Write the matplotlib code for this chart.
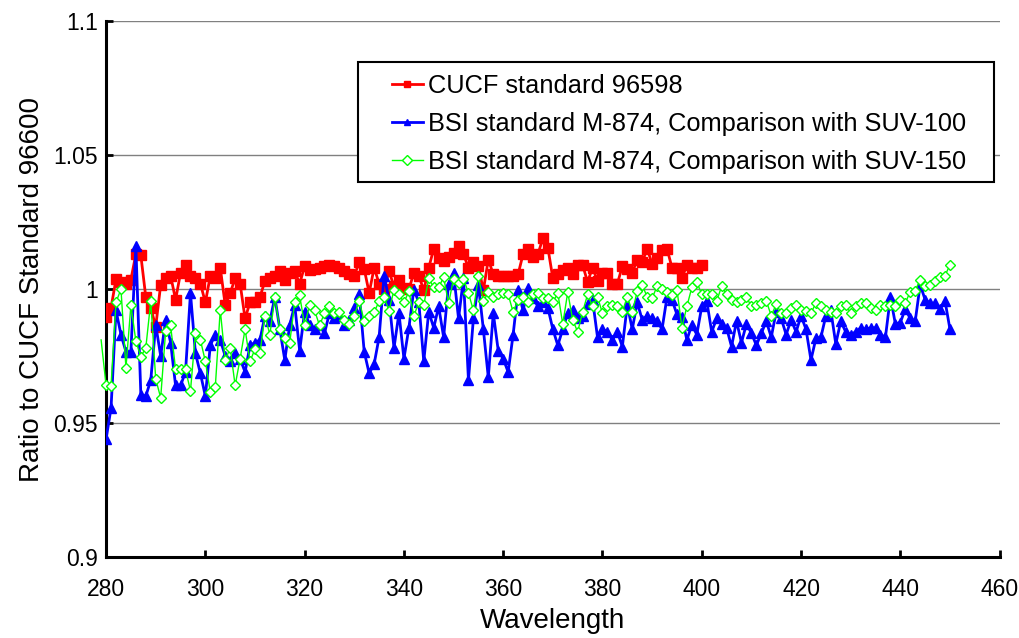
import numpy as np
import matplotlib
matplotlib.use("Agg")
import matplotlib.pyplot as plt
from matplotlib.patches import Rectangle

plt.rcParams["font.family"] = ["Liberation Sans", "DejaVu Sans"]

# CUCF standard 96598, 280-400 nm
red_wl = np.arange(280, 401)
red_val = [
    0.9895, 0.993, 1.0037, 1.0026, 1.002, 1.0035, 1.013, 1.0126, 0.997, 0.993,
    0.986, 1.0016, 1.004, 1.005, 0.996, 1.006, 1.009, 1.005, 1.004, 1.002,
    0.995, 1.005, 1.004, 1.008, 0.994, 0.9985, 1.004, 1.002, 0.989, 0.995,
    0.995, 0.997, 1.003, 1.004, 1.005, 1.0066, 1.0035, 1.006, 1.0066, 1.002,
    1.0085, 1.007, 1.0075, 1.008, 1.0085, 1.009, 1.0085, 1.008, 1.0066, 1.0056,
    1.005, 1.010, 1.0075, 0.9985, 1.008, 1.002, 1.000, 1.0066, 1.001, 1.0035,
    1.0004, 0.9999, 1.006, 1.005, 0.9995, 1.0079, 1.015, 1.0116, 1.0104, 1.012,
    1.0135, 1.016, 1.0129, 1.008, 1.010, 1.0085, 0.9995, 1.011, 1.0055, 1.005,
    1.005, 1.005, 1.005, 1.0055, 1.013, 1.015, 1.012, 1.013, 1.019, 1.0154,
    1.004, 1.0056, 1.007, 1.008, 1.0056, 1.009, 1.009, 1.0026, 1.008, 1.003,
    1.006, 1.006, 1.002, 1.002, 1.0085, 1.0074, 1.006, 1.011, 1.010, 1.015,
    1.0094, 1.0116, 1.0144, 1.015, 1.008, 1.008, 1.004, 1.009, 1.008, 1.008,
    1.009,
]

# BSI M-874 vs SUV-100, 280-450 nm
blue_wl = np.arange(280, 451)
blue_val = [
    0.944, 0.9556, 0.992, 0.983, 0.9766, 0.9766, 1.016, 0.9606, 0.960, 0.966,
    0.9866, 0.975, 0.9885, 0.980, 0.964, 0.964, 0.969, 0.9985, 0.976, 0.9685,
    0.960, 0.979, 0.983, 0.981, 0.975, 0.973, 0.976, 0.974, 0.969, 0.979,
    0.980, 0.981, 0.990, 0.988, 0.997, 0.985, 0.9735, 0.9866, 0.994, 0.977,
    0.9916, 0.9866, 0.985, 0.9866, 0.9835, 0.991, 0.989, 0.990, 0.9866, 0.9885,
    0.993, 0.998, 0.9766, 0.9685, 0.972, 0.982, 1.005, 0.996, 0.978, 0.991,
    0.974, 0.9855, 0.9998, 0.995, 0.973, 0.9916, 0.9855, 0.9935, 0.982, 1.002,
    1.006, 0.989, 1.004, 0.966, 0.989, 1.0016, 0.985, 0.967, 0.991, 0.977,
    0.974, 0.969, 0.983, 0.9995, 0.992, 1.0004, 0.9966, 0.9935, 0.995, 0.993,
    0.985, 0.979, 0.985, 0.991, 0.992, 0.989, 0.990, 0.9945, 0.996, 0.982,
    0.985, 0.984, 0.981, 0.984, 0.9785, 0.994, 0.985, 0.995, 0.9885, 0.990,
    0.989, 0.988, 0.985, 0.997, 0.996, 0.9905, 0.9895, 0.981, 0.9866, 0.983,
    0.9935, 0.9956, 0.984, 0.989, 0.987, 0.9855, 0.9785, 0.988, 0.980, 0.987,
    0.9835, 0.979, 0.9835, 0.988, 0.982, 0.9916, 0.989, 0.983, 0.9885, 0.984,
    0.990, 0.985, 0.9735, 0.9816, 0.982, 0.990, 0.992, 0.9795, 0.988, 0.984,
    0.983, 0.984, 0.9855, 0.985, 0.9855, 0.9855, 0.983, 0.982, 0.997, 0.987,
    0.9875, 0.9925, 0.989, 0.988, 1.0016, 0.996, 0.9947, 0.9947, 0.9925, 0.9956,
    0.985,
]

# BSI M-874 vs SUV-150, 279-450 nm (first point lies just left of the axis)
green_wl = np.arange(279, 451)
green_val = [
    0.981,
    0.9641, 0.9638, 0.995, 1.000, 0.9706, 0.9939, 0.9806, 0.9748, 0.978, 0.9954,
    0.9664, 0.9594, 0.9844, 0.9864, 0.970, 0.970, 0.970, 0.962, 0.9835, 0.981,
    0.973, 0.9615, 0.9634, 0.9923, 0.9734, 0.978, 0.964, 0.974, 0.985, 0.973,
    0.9776, 0.976, 0.990, 0.983, 0.9969, 0.985, 0.9816, 0.980, 0.995, 0.9976,
    0.9864, 0.994, 0.992, 0.9864, 0.991, 0.9935, 0.991, 0.9914, 0.9885, 0.987,
    0.990, 0.9956, 0.988, 0.990, 0.9914, 0.9954, 0.997, 0.9919, 0.9997, 0.998,
    0.995, 0.9991, 0.990, 0.995, 0.994, 1.004, 1.0006, 1.0006, 1.0044, 0.9946,
    1.0039, 1.0022, 1.0039, 0.9985, 0.992, 1.0048, 0.9954, 0.9988, 0.997, 0.998,
    0.9985, 0.998, 0.9914, 0.996, 0.997, 0.995, 0.998, 0.9985, 0.9966, 0.9966,
    0.995, 0.9985, 0.9869, 0.9988, 0.9885, 0.984, 0.9914, 0.998, 0.9935, 0.997,
    0.991, 0.9935, 0.994, 0.9935, 0.9914, 0.9972, 0.9914, 0.9991, 1.0016, 0.997,
    0.9966, 1.001, 1.000, 0.999, 0.9976, 0.9998, 0.9856, 0.9935, 1.0006, 1.0026,
    0.998, 0.998, 0.998, 0.9955, 1.001, 0.998, 0.996, 0.995, 0.996, 0.997,
    0.9935, 0.994, 0.9948, 0.9956, 0.990, 0.9944, 0.991, 0.991, 0.9929, 0.9939,
    0.992, 0.9919, 0.991, 0.9948, 0.9935, 0.992, 0.9914, 0.991, 0.9935, 0.994,
    0.991, 0.9935, 0.9948, 0.9948, 0.993, 0.992, 0.994, 0.9935, 0.994, 0.9935,
    0.996, 0.9948, 0.999, 0.9994, 1.0035, 1.001, 1.0016, 1.003, 1.0044, 1.005,
    1.009,
]

y_ticks = [0.9, 0.95, 1.0, 1.05, 1.1]
x_ticks = list(range(280, 461, 20))

fig = plt.figure(figsize=(10.2, 6.38), dpi=100)
ax = fig.add_axes([0.104, 0.127, 0.876, 0.840])

ax.plot(red_wl, red_val, color="#ff0000", lw=2.0, marker="s", ms=7,
        label="CUCF standard 96598", zorder=3)
ax.plot(blue_wl, blue_val, color="#0000ff", lw=2.0, marker="^", ms=7.5,
        label="BSI standard M-874, Comparison with SUV-100", zorder=4)
ax.plot(green_wl, green_val, color="#00ff00", lw=1.0, marker="D", ms=5.5,
        mfc="white", mec="#00ff00", mew=1.0, markevery=slice(1, None),
        clip_on=False,
        label="BSI standard M-874, Comparison with SUV-150", zorder=5)

ax.set_xlim(280, 460)
ax.set_ylim(0.9, 1.1)
ax.set_xticks(x_ticks)
ax.set_yticks(y_ticks)
ax.set_yticklabels([f"{v:g}" for v in y_ticks])
ax.yaxis.grid(True, color="#808080", lw=1.0)
ax.set_axisbelow(True)

for side in ("top", "right"):
    ax.spines[side].set_visible(False)
for side in ("left", "bottom"):
    ax.spines[side].set_linewidth(2.2)
    ax.spines[side].set_color("black")

ax.tick_params(direction="in", length=5, width=2, labelsize=16.5, pad=6)
ax.tick_params(axis="x", pad=15)

ax.set_xlabel("Wavelength", fontsize=20, labelpad=5)
ax.set_ylabel("Ratio to CUCF Standard 96600", fontsize=20, labelpad=6)

# legend box drawn separately so its padding can match the original
ax.add_patch(Rectangle((0.2819, 0.6996), 0.7116, 0.2239, transform=ax.transAxes,
                       facecolor="white", edgecolor="black", lw=1.5,
                       zorder=6, clip_on=False))
leg = ax.legend(loc="upper left", bbox_to_anchor=(0.3199, 0.902),
                fontsize=18.3, frameon=False, borderaxespad=0, borderpad=0,
                handlelength=1.22, handletextpad=0.18, labelspacing=0.55)
leg.set_zorder(7)
for h in leg.get_lines():
    h.set_markersize(5)

fig.savefig("out.png", dpi=100)
